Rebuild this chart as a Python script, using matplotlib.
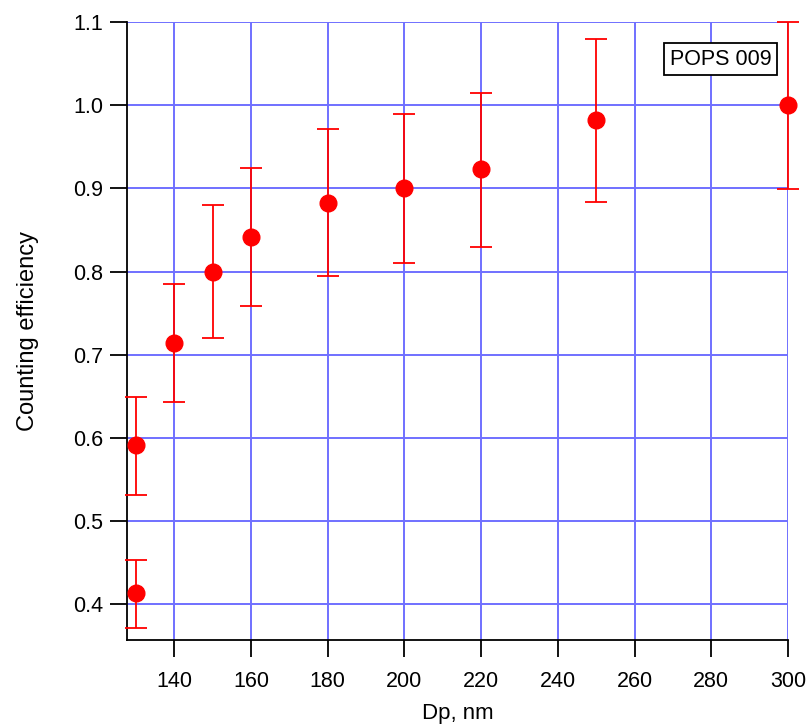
import numpy as np
import matplotlib
matplotlib.use('Agg')
import matplotlib.pyplot as plt

plt.rcParams['font.family'] = ['Liberation Sans', 'DejaVu Sans']

dp = [130, 130, 140, 150, 160, 180, 200, 220, 250, 300]
eff = [0.413, 0.591, 0.714, 0.800, 0.842, 0.882, 0.900, 0.923, 0.982, 1.000]
err_hi = [0.453, 0.649, 0.785, 0.880, 0.925, 0.971, 0.990, 1.015, 1.080, 1.100]
err_lo = [0.371, 0.531, 0.643, 0.720, 0.759, 0.795, 0.810, 0.830, 0.884, 0.899]

eff = np.array(eff)
yerr = [eff - np.array(err_lo), np.array(err_hi) - eff]

fig = plt.figure(figsize=(8.12, 7.24), dpi=100)
ax = fig.add_axes([0.1564, 0.116, 0.814, 0.8536])

ax.errorbar(dp, eff, yerr=yerr, fmt='o', color='#ff0000', ms=12,
            capsize=8, elinewidth=1.3, capthick=1.3, zorder=3, clip_on=False)

ax.set_xlim(127.7, 300)
ax.set_ylim(0.357, 1.1)
ax.set_xticks(np.arange(140, 301, 20))
ax.set_yticks(np.arange(0.4, 1.101, 0.1))
ax.set_yticklabels(['%.1f' % v for v in np.arange(0.4, 1.101, 0.1)])
ax.grid(True, color='#7070ff', lw=1.4)
ax.set_axisbelow(True)

for s in ['top', 'right']:
    ax.spines[s].set_visible(False)
for s in ['left', 'bottom']:
    ax.spines[s].set_linewidth(1.3)
ax.tick_params(direction='out', length=12, width=1.3, labelsize=15.5)
ax.tick_params(axis='x', pad=10)
ax.tick_params(axis='y', pad=5)

ax.set_xlabel('Dp, nm', fontsize=16, labelpad=8)
ax.set_ylabel('Counting efficiency', fontsize=17, labelpad=25)

ax.text(0.975, 0.94, 'POPS 009', transform=ax.transAxes, ha='right', va='center',
        fontsize=15.5, bbox=dict(facecolor='white', edgecolor='black', lw=1.3, pad=4))

fig.savefig('out.png', dpi=100)
